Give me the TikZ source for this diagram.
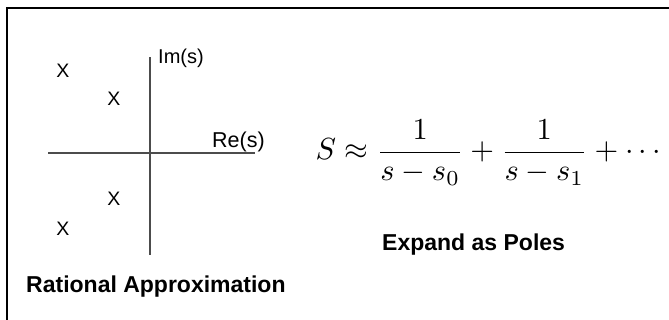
\documentclass[tikz,border=0pt]{standalone}
\usepackage{fontspec}
\setsansfont{Liberation Sans}
\begin{document}
\begin{tikzpicture}[x=1pt,y=-1pt,
    pole/.style={font=\sffamily\fontsize{19.5}{22}\selectfont, inner sep=0pt},
    axislabel/.style={font=\sffamily\fontsize{20}{23}\selectfont, anchor=base west, inner sep=0pt},
    caption/.style={font=\sffamily\bfseries\fontsize{23}{27}\selectfont, anchor=base west, inner sep=0pt},
    axis/.style={line width=1.4pt, black!70}]
  \useasboundingbox (0,0) rectangle (669,320);
  % frame, cut off at the right and bottom
  \draw[line width=2pt] (7,320) -- (7,8) -- (669,8);

  % s-plane
  \coordinate (imtop) at (150,57);
  \coordinate (imbot) at (150,255);
  \coordinate (releft) at (48,153);
  \coordinate (reright) at (255,153);
  \draw[axis] (imbot) -- (imtop);
  \draw[axis] (releft) -- (reright);
  \node[axislabel] (im) at (158,64) {Im(s)};
  \node[axislabel, font=\sffamily\fontsize{21.5}{25}\selectfont] (re) at (212,148) {Re(s)};

  \node[pole] (p1) at (63,71) {X};
  \node[pole] (p2) at (114,99) {X};
  \node[pole] (p3) at (114,199) {X};
  \node[pole] (p4) at (63,229) {X};

  \node[caption] (rat) at (26,293) {Rational Approximation};

  % pole expansion
  \node[anchor=base west, inner sep=0pt, scale=3.05] (eq) at (315,160)
    {$\displaystyle S\approx\frac{1}{s-s_0}+\frac{1}{s-s_1}+\cdots$};
  \node[caption] (exp) at (382,251) {Expand as Poles};
\end{tikzpicture}
\end{document}
